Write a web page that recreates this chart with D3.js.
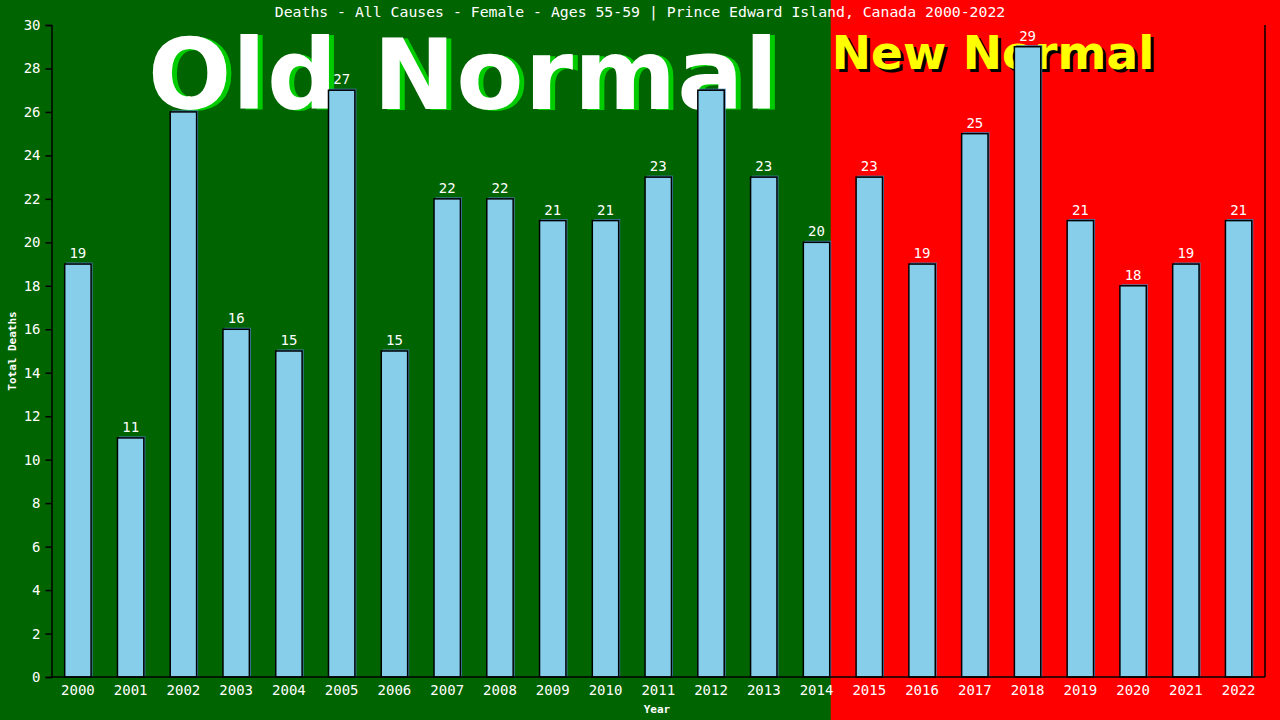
<!DOCTYPE html>
<html>
<head>
<meta charset="utf-8">
<script src="https://cdn.jsdelivr.net/npm/d3@7"></script>
<style>
  html, body { margin: 0; padding: 0; background: #006400; }
  svg { display: block; }
</style>
</head>
<body>
<div id="chart"></div>
<script>
const years = ["2000","2001","2002","2003","2004","2005","2006","2007","2008","2009","2010","2011",
  "2012","2013","2014","2015","2016","2017","2018","2019","2020","2021","2022"];
const deaths = [19, 11, 26, 16, 15, 27, 15, 22, 22, 21, 21, 23, 27, 23, 20, 23, 19, 25, 29, 21, 18, 19, 21];
const yTicks = [0, 2, 4, 6, 8, 10, 12, 14, 16, 18, 20, 22, 24, 26, 28, 30];
const lastOldYear = "2014";

const width = 1280;
const height = 720;
const margin = { top: 25, right: 15, bottom: 43, left: 51.5 };
const mono = "'DejaVu Sans Mono', monospace";
const sans = "'DejaVu Sans', sans-serif";

const svg = d3.select("#chart").append("svg").attr("width", width).attr("height", height);

const x = d3.scaleBand()
  .domain(years)
  .range([margin.left, width - margin.right])
  .paddingInner(0.5)
  .paddingOuter(0.25);
const y = d3.scaleLinear().domain([0, 30]).range([height - margin.bottom, margin.top]);

// backgrounds: old normal (green) up to the right edge of the last old bar, new normal (red) after
const splitX = x(lastOldYear) + x.bandwidth() + 1;
svg.append("rect").attr("x", 0).attr("y", 0).attr("width", splitX).attr("height", height).attr("fill", "#006400");
svg.append("rect").attr("x", splitX).attr("y", 0).attr("width", width - splitX).attr("height", height).attr("fill", "#ff0000");

// value labels (drawn under the big headings)
svg.append("g").selectAll("text")
  .data(deaths)
  .join("text")
  .attr("x", (d, i) => x(years[i]) + x.bandwidth() / 2)
  .attr("y", d => y(d) - 6)
  .attr("text-anchor", "middle")
  .attr("font-family", mono).attr("font-size", 14)
  .attr("fill", "#fff")
  .text(d => d);

// big headings
svg.append("text").attr("x", 153).attr("y", 110)
  .attr("font-family", sans).attr("font-weight", "bold").attr("font-size", 98).attr("textLength", 630)
  .attr("fill", "#00cc00").text("Old Normal");
svg.append("text").attr("x", 148).attr("y", 109)
  .attr("font-family", sans).attr("font-weight", "bold").attr("font-size", 98).attr("textLength", 630)
  .attr("fill", "#ffffff").text("Old Normal");
svg.append("text").attr("x", splitX + 4).attr("y", 72)
  .attr("font-family", sans).attr("font-weight", "bold").attr("font-size", 47)
  .attr("fill", "#000000").text("New Normal");
svg.append("text").attr("x", splitX + 1).attr("y", 69)
  .attr("font-family", sans).attr("font-weight", "bold").attr("font-size", 47)
  .attr("fill", "#ffff00").text("New Normal");

// bars
const bars = svg.append("g");
bars.selectAll("rect.shadow")
  .data(deaths)
  .join("rect")
  .attr("class", "shadow")
  .attr("x", (d, i) => x(years[i]) + 1.5)
  .attr("y", d => y(d) - 1.5)
  .attr("width", x.bandwidth())
  .attr("height", d => y(0) - y(d) + 1.5)
  .attr("fill", "#4682b4");
bars.selectAll("rect.bar")
  .data(deaths)
  .join("rect")
  .attr("class", "bar")
  .attr("x", (d, i) => x(years[i]))
  .attr("y", d => y(d))
  .attr("width", x.bandwidth())
  .attr("height", d => y(0) - y(d))
  .attr("fill", "#87ceeb")
  .attr("stroke", "#000")
  .attr("stroke-width", 1.5);

// axes
const yAxis = svg.append("g")
  .attr("transform", `translate(${margin.left},0)`)
  .call(d3.axisLeft(y).tickValues(yTicks).tickSize(6).tickPadding(5));
const xAxis = svg.append("g")
  .attr("transform", `translate(0,${height - margin.bottom})`)
  .call(d3.axisBottom(x).tickSize(0).tickPadding(8));
[yAxis, xAxis].forEach(g => {
  g.select(".domain").attr("stroke", "#000").attr("stroke-width", 1.5);
  g.selectAll(".tick line").attr("stroke", "#000").attr("stroke-width", 1.5);
  g.selectAll(".tick text").attr("fill", "#fff").attr("font-family", mono).attr("font-size", 14);
});
xAxis.select(".domain").attr("d", `M${margin.left},0H${width - margin.right}`);

// right border
svg.append("line")
  .attr("x1", width - margin.right).attr("x2", width - margin.right)
  .attr("y1", margin.top).attr("y2", height - margin.bottom)
  .attr("stroke", "#000").attr("stroke-width", 1.5);

// titles
svg.append("text").attr("x", 640).attr("y", 17).attr("text-anchor", "middle")
  .attr("font-family", mono).attr("font-size", 14.8).attr("fill", "#fff")
  .text("Deaths - All Causes - Female - Ages 55-59 | Prince Edward Island, Canada 2000-2022");
svg.append("text").attr("x", 657).attr("y", 713).attr("text-anchor", "middle")
  .attr("font-family", mono).attr("font-size", 11).attr("font-weight", "bold").attr("fill", "#fff")
  .text("Year");
svg.append("text").attr("transform", "translate(16,351) rotate(-90)").attr("text-anchor", "middle")
  .attr("font-family", mono).attr("font-size", 11).attr("font-weight", "bold").attr("fill", "#fff")
  .text("Total Deaths");
</script>
</body>
</html>
